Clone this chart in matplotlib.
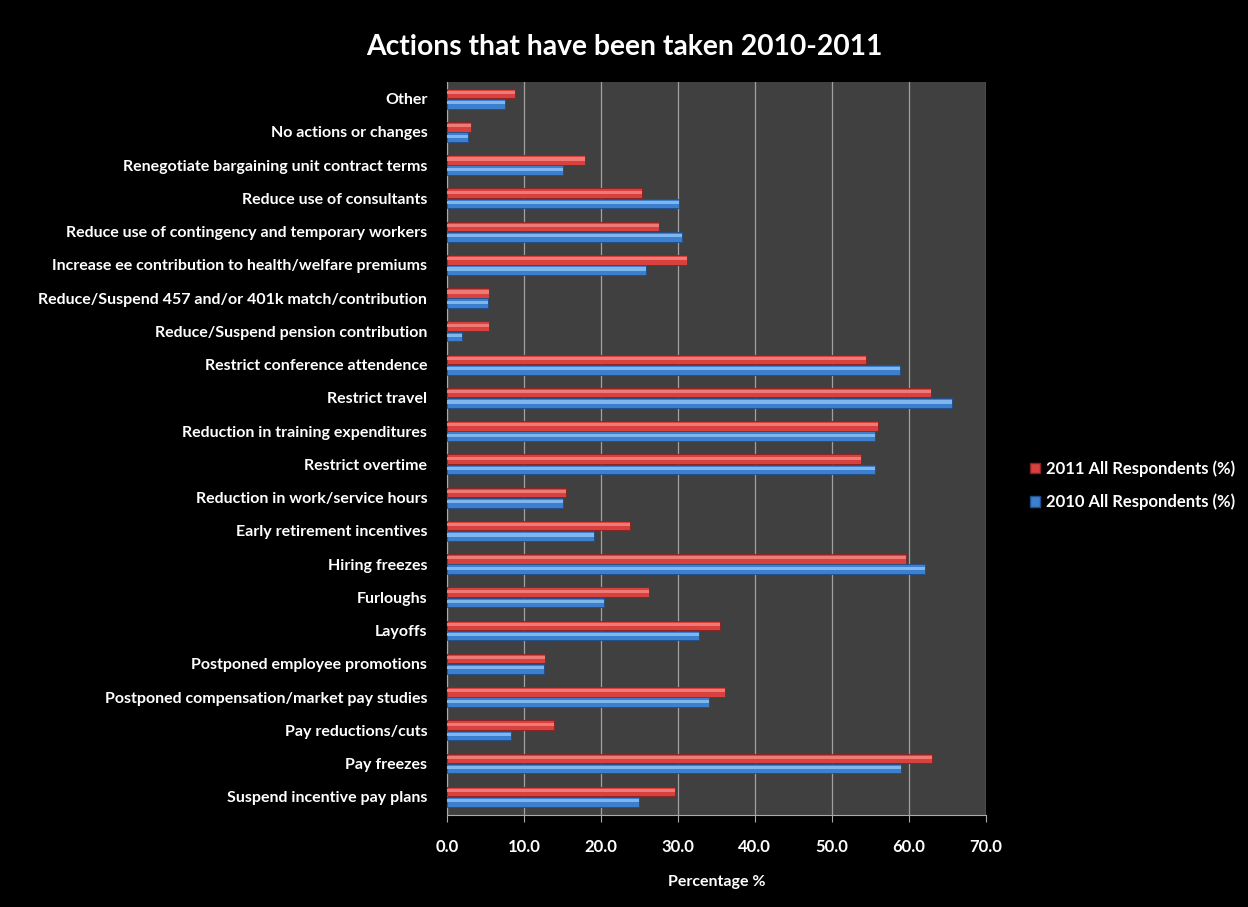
import numpy as np
import matplotlib.pyplot as plt
from matplotlib.patches import Patch

plt.rcParams['font.family'] = ['Lato', 'DejaVu Sans']
plt.rcParams['font.weight'] = 'bold'

# categories, bottom to top
actions = ["Suspend incentive pay plans", "Pay freezes", "Pay reductions/cuts",
           "Postponed compensation/market pay studies", "Postponed employee promotions",
           "Layoffs", "Furloughs", "Hiring freezes", "Early retirement incentives",
           "Reduction in work/service hours", "Restrict overtime",
           "Reduction in training expenditures", "Restrict travel",
           "Restrict conference attendence", "Reduce/Suspend pension contribution",
           "Reduce/Suspend 457 and/or 401k match/contribution",
           "Increase ee contribution to health/welfare premiums",
           "Reduce use of contingency and temporary workers",
           "Reduce use of consultants", "Renegotiate bargaining unit contract terms",
           "No actions or changes", "Other"]
pct_2011 = [29.6, 63.0, 13.9, 36.1, 12.8, 35.5, 26.3, 59.6, 23.8, 15.5, 53.8,
            56.0, 62.9, 54.4, 5.5, 5.5, 31.2, 27.5, 25.4, 17.9, 3.1, 8.8]
pct_2010 = [24.9, 59.0, 8.3, 34.0, 12.6, 32.8, 20.4, 62.1, 19.1, 15.1, 55.6,
            55.6, 65.6, 58.9, 2.0, 5.4, 25.9, 30.5, 30.2, 15.1, 2.7, 7.5]
xticks = np.arange(0, 71, 10)

red = '#d9413e'
red_hi = '#ee7a76'
blue = '#3d7fcf'
blue_hi = '#7fb6ee'

fig = plt.figure(figsize=(12.48, 9.07), dpi=100, facecolor='black')
ax = fig.add_axes([0.358, 0.1014, 0.432, 0.8082])
ax.set_facecolor('#404040')

y = np.arange(len(actions))
h = 0.29
off = 0.155
ax.barh(y + off, pct_2011, height=h, color=red, edgecolor='#8a2220', linewidth=0.6, zorder=3)
ax.barh(y + off + h * 0.1, pct_2011, height=h * 0.32, color=red_hi, linewidth=0, zorder=4)
ax.barh(y - off, pct_2010, height=h, color=blue, edgecolor='#1f4f8a', linewidth=0.6, zorder=3)
ax.barh(y - off + h * 0.1, pct_2010, height=h * 0.32, color=blue_hi, linewidth=0, zorder=4)

ax.set_xlim(0, 70)
ax.set_ylim(-0.55, len(actions) - 0.5)
ax.set_xticks(xticks)
ax.set_xticklabels(['%.1f' % t for t in xticks], color='white', fontsize=12, fontweight='bold')
ax.set_yticks(y)
ax.set_yticklabels(actions, color='white', fontsize=11.5, fontweight='bold')
ax.tick_params(axis='y', length=0, pad=14)
ax.tick_params(axis='x', colors='#aaaaaa', length=5, pad=12, labelcolor='white')
ax.xaxis.grid(True, color='#a0a0a0', linewidth=0.9, zorder=0)
ax.set_axisbelow(True)
for s in ['top', 'right']:
    ax.spines[s].set_visible(False)
ax.spines['left'].set_color('#aaaaaa')
ax.spines['bottom'].set_color('#aaaaaa')

ax.set_xlabel('Percentage %', color='white', fontsize=11.5, fontweight='bold', labelpad=15)
fig.suptitle('Actions that have been taken 2010-2011', color='white', fontsize=20.3,
             fontweight='bold', y=0.962)

handles = [Patch(facecolor=red, edgecolor='#8a2220', label='2011 All Respondents (%)'),
           Patch(facecolor=blue, edgecolor='#1f4f8a', label='2010 All Respondents (%)')]
leg = fig.legend(handles=handles, loc='center left', bbox_to_anchor=(0.813, 0.465),
                 frameon=False, fontsize=12, handlelength=0.6, handleheight=0.6,
                 handletextpad=0.4, labelspacing=1.0)
for t in leg.get_texts():
    t.set_color('white')

fig.savefig('out.png', dpi=100, facecolor='black')
